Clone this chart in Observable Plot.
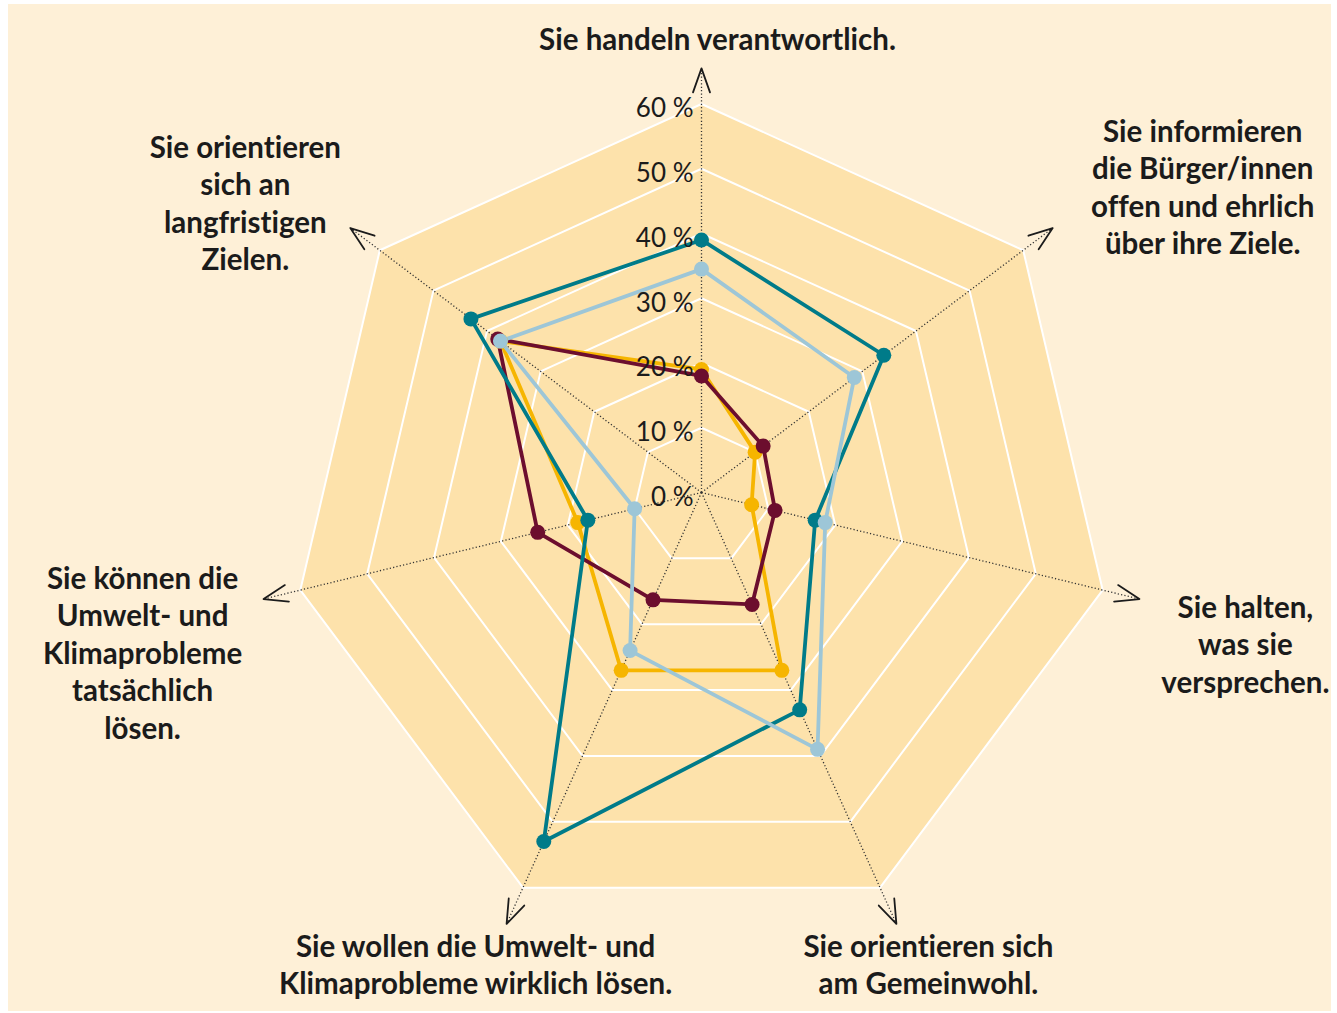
<!DOCTYPE html>
<html><head><meta charset="utf-8">
<script src="https://cdn.jsdelivr.net/npm/d3@7"></script>
<script src="https://cdn.jsdelivr.net/npm/@observablehq/plot@0.6"></script>
<style>
html,body{margin:0;padding:0;background:#ffffff;}
#chart{position:absolute;left:8px;top:4px;width:1323px;height:1007px;background:#fef0d7;}
#chart svg{display:block;}
#chart text{font-variant-ligatures:none;}
</style></head><body><div id="chart"></div>
<script>
// ---- data ----
const axisLabels = [
  "Sie handeln verantwortlich.",
  "Sie informieren\ndie Bürger/innen\noffen und ehrlich\nüber ihre Ziele.",
  "Sie halten,\nwas sie\nversprechen.",
  "Sie orientieren sich\nam Gemeinwohl.",
  "Sie wollen die Umwelt- und\nKlimaprobleme wirklich lösen.",
  "Sie können die\nUmwelt- und\nKlimaprobleme\ntatsächlich\nlösen.",
  "Sie orientieren\nsich an\nlangfristigen\nZielen."
];
const ringTicks = [0, 10, 20, 30, 40, 50, 60];
const seriesNames = ["Reihe 1", "Reihe 2", "Reihe 3", "Reihe 4"]; // yellow, dark red, teal, light blue
const valuesYellow   = [19, 10, 7.5, 27, 27, 18.5, 37.5];
const valuesDarkRed  = [18, 11.5, 11, 17, 16.3, 24.5, 38];
const valuesTeal     = [39, 34, 17, 33, 53, 17, 43];
const valuesLightBlue= [34.5, 28.5, 18.5, 39, 24, 10, 37.5];
const seriesColors = ["#f6b500", "#6c0e2e", "#007b89", "#9dc6d7"];

// ---- layout ----
const W = 1323, H = 1007, cx = 693, cy = 488;
const kx = 6.858, kyUp = 6.475, kyDown = 7.31, D = 72;
const stretch = kyDown / kyUp; // lower half of the chart is drawn a little taller
const outer = 60, tipR = 65.5;
const labelOffsets = [[16,-30],[150,-42],[106,44],[32,39.5],[-31,39.5],[-121,52.5],[-105,-26]];

const N = axisLabels.length;
const ang = i => i * 2 * Math.PI / N;
const pt = (i, v) => {
  const c = Math.cos(ang(i));
  return {x: v * Math.sin(ang(i)), y: v * c * (c < 0 ? stretch : 1)};
};
const idx = d3.range(N);

// rings
const rings = ringTicks.filter(t => t > 0).flatMap(t =>
  [...idx, 0].map(i => ({ring: t, ...pt(i, t)})));
const outerPoly = [...idx, 0].map(i => pt(i, outer));

// axes
const axes = idx.map(i => {
  const p = pt(i, tipR);
  const ky = Math.cos(ang(i)) >= 0 ? kyUp : kyDown;
  const rot = Math.atan2(Math.sin(ang(i)) * kx, Math.cos(ang(i)) * ky) * 180 / Math.PI;
  return {i, x: p.x, y: p.y, rot, x0: 0, y0: 0};
});

// series
const allValues = [valuesYellow, valuesDarkRed, valuesTeal, valuesLightBlue];
const seriesPts = allValues.flatMap((vals, s) =>
  vals.map((v, i) => ({series: seriesNames[s], i, v, ...pt(i, v)})));
const seriesLines = allValues.flatMap((vals, s) =>
  [...idx, 0].map(i => ({series: seriesNames[s], ...pt(i, vals[i])})));
const tickRows = ringTicks.map(t => ({t, x: 0, y: t, label: `${t} %`}));

const chevron = {
  draw(ctx) { ctx.moveTo(-8.5, 24); ctx.lineTo(0, 0); ctx.lineTo(8.5, 24); }
};

const labelFont = "Lato, 'Open Sans', sans-serif";

const labelMarks = idx.map(i => Plot.text([{...axes[i], label: axisLabels[i]}], {
  x: "x", y: "y", text: "label",
  dx: labelOffsets[i][0], dy: labelOffsets[i][1],
  textAnchor: "middle", lineAnchor: "middle",
  fontSize: 29.5, lineHeight: 37.5 / 29.5, fontWeight: "bold",
  fontFamily: labelFont, fill: "#1b1b1b"
}));

const chart = Plot.plot({
  width: W, height: H,
  marginTop: 0, marginRight: 0, marginBottom: 0, marginLeft: 0,
  style: {background: "transparent", overflow: "visible"},
  x: {domain: [-D, D], range: [cx - D * kx, cx + D * kx], axis: null},
  y: {domain: [-D * stretch, D], range: [cy + D * kyDown, cy - D * kyUp], axis: null},
  color: {domain: seriesNames, range: seriesColors},
  marks: [
    Plot.line(outerPoly, {x: "x", y: "y", fill: "#fde2ab", stroke: "none"}),
    Plot.line(rings, {x: "x", y: "y", z: "ring", stroke: "#ffffff", strokeWidth: 2, strokeLinejoin: "miter"}),
    Plot.link(axes, {x1: "x0", y1: "y0", x2: "x", y2: "y", stroke: "#333", strokeWidth: 1.3, strokeDasharray: "1.2,2.2"}),
    Plot.vector(axes, {x: "x", y: "y", length: 1, rotate: "rot", anchor: "start", shape: chevron, stroke: "#1b1b1b", strokeWidth: 1.8}),
    Plot.line(seriesLines, {x: "x", y: "y", z: "series", stroke: "series", strokeWidth: 3.8, strokeLinejoin: "round"}),
    Plot.text(tickRows, {x: "x", y: "y", text: "label", textAnchor: "end", dx: -8, dy: 5,
      fontSize: 26, fontFamily: "Lato, sans-serif", fill: "#1b1b1b"}),
    Plot.dot(seriesPts, {x: "x", y: "y", fill: "series", r: 7.5, stroke: "none"}),
    ...labelMarks
  ]
});
document.getElementById("chart").appendChild(chart);
</script>
</body></html>
